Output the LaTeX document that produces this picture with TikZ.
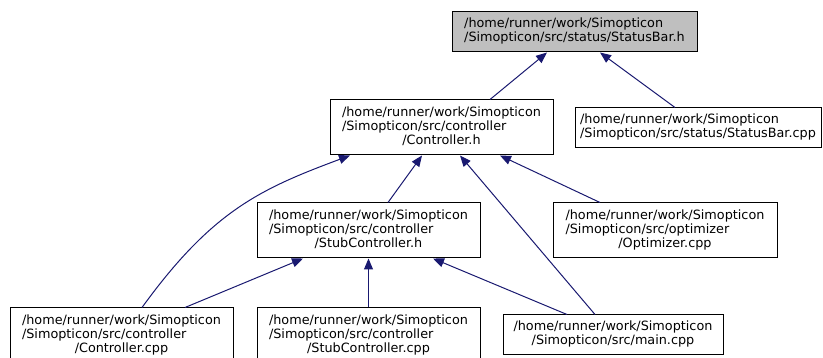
\documentclass[tikz,border=0pt]{standalone}
\usepackage{fontspec}
\setmainfont{DejaVu Sans}
\usetikzlibrary{arrows.meta}
\definecolor{edgeblue}{HTML}{191970}
\definecolor{boxgray}{HTML}{BFBFBF}
\newcommand{\lbl}[2]{{\fontsize{12.8}{13.6}\selectfont\begin{tabular}{@{}l@{}}#1\multicolumn{1}{@{}c@{}}{#2}\end{tabular}}}
\tikzset{
  filebox/.style={draw=black, line width=1pt, fill=white, inner sep=0pt, minimum width=#1},
  filebox/.default=223pt,
  edge/.style={draw=edgeblue, line width=1pt, -{Triangle[length=11pt,width=9pt]}}
}
\begin{document}
\begin{tikzpicture}[x=1pt,y=-1pt]
\useasboundingbox (0,0) rectangle (823,358);
\node[filebox=245pt, fill=boxgray, minimum height=40pt] (sbh) at (574.5,32) {\lbl{/home/runner/work/Simopticon\\}{/Simopticon/src/status/StatusBar.h}};
\node[filebox=223pt, minimum height=55pt] (ch) at (441.5,127.5) {\lbl{/home/runner/work/Simopticon\\/Simopticon/src/controller\\}{/Controller.h}};
\node[filebox=246pt, minimum height=40pt] (sbcpp) at (698,128) {\lbl{/home/runner/work/Simopticon\\}{/Simopticon/src/status/StatusBar.cpp}};
\node[filebox=223pt, minimum height=55pt] (stubh) at (368.5,230.5) {\lbl{/home/runner/work/Simopticon\\/Simopticon/src/controller\\}{/StubController.h}};
\node[filebox=224pt, minimum height=55pt] (opt) at (665,230.5) {\lbl{/home/runner/work/Simopticon\\/Simopticon/src/optimizer\\}{/Optimizer.cpp}};
\node[filebox=223pt, minimum height=55pt] (ccpp) at (121.5,335.5) {\lbl{/home/runner/work/Simopticon\\/Simopticon/src/controller\\}{/Controller.cpp}};
\node[filebox=223pt, minimum height=55pt] (stubcpp) at (368.5,335.5) {\lbl{/home/runner/work/Simopticon\\/Simopticon/src/controller\\}{/StubController.cpp}};
\node[filebox=220pt, minimum height=40pt] (main) at (613,335) {\lbl{/home/runner/work/Simopticon\\}{/Simopticon/src/main.cpp}};
\draw[edge] ([xshift=48.5pt]ch.north) -- ([xshift=-27.5pt]sbh.south);
\draw[edge] ([xshift=-23pt]sbcpp.north) -- ([xshift=25.5pt]sbh.south);
\draw[edge] ([xshift=20.5pt]ccpp.north) .. controls (212,211) and (260,189) .. ([xshift=-91.5pt]ch.south);
\draw[edge] ([xshift=63.5pt]ccpp.north) -- ([xshift=-65.5pt]stubh.south);
\draw[edge] (stubcpp.north) -- (stubh.south);
\draw[edge] ([xshift=-46pt]main.north) -- ([xshift=64.5pt]stubh.south);
\draw[edge] ([xshift=-18pt]main.north) -- ([xshift=18.5pt]ch.south);
\draw[edge] ([xshift=-65pt]opt.north) -- ([xshift=58.5pt]ch.south);
\draw[edge] ([xshift=19.5pt]stubh.north) -- ([xshift=-19.5pt]ch.south);
\end{tikzpicture}
\end{document}
